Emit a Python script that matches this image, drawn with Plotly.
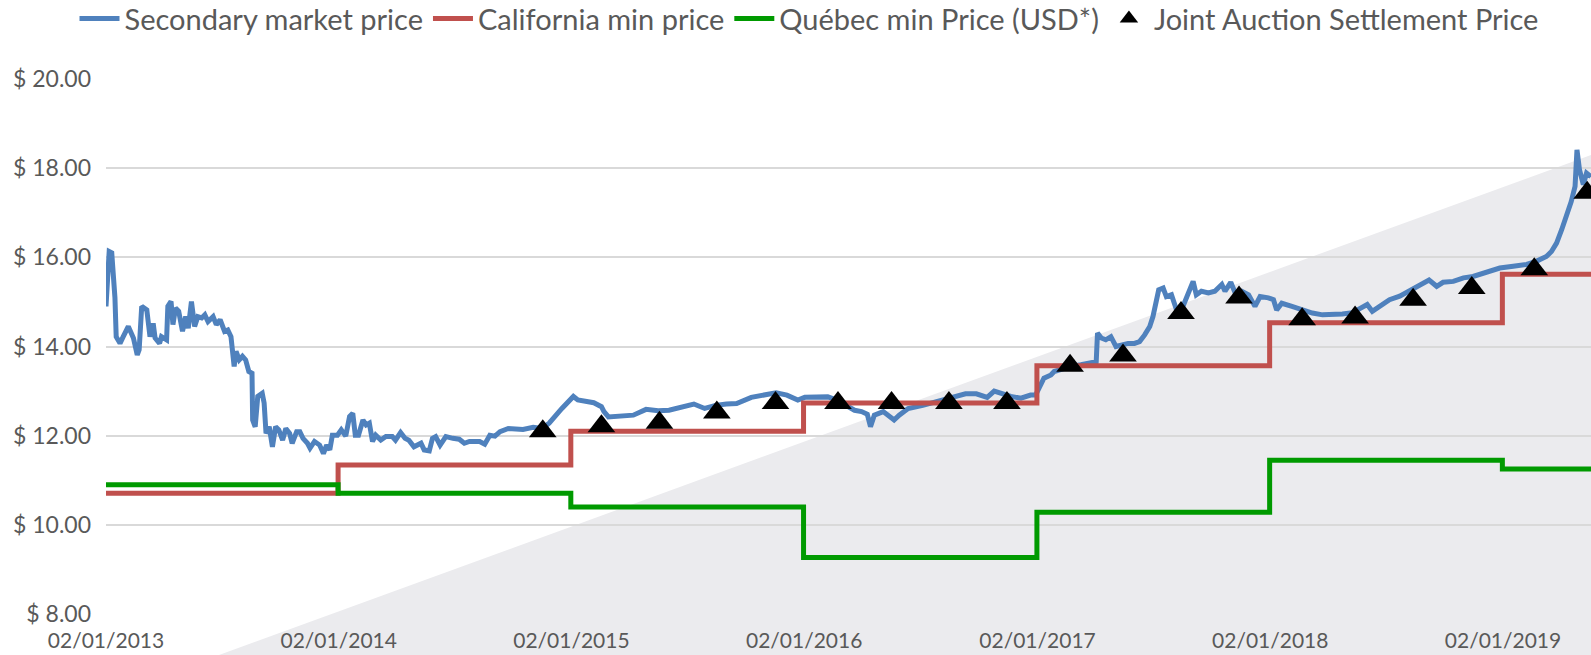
import plotly.graph_objects as go

# ---------------- data ----------------
secondary_dates = [
    "2013-01-02","2013-01-07","2013-01-11","2013-01-16","2013-01-18","2013-01-24","2013-01-29","2013-02-06",
    "2013-02-14","2013-02-20","2013-02-23","2013-02-27","2013-03-07","2013-03-12","2013-03-17","2013-03-20",
    "2013-03-27","2013-03-30","2013-04-07","2013-04-09","2013-04-14","2013-04-17","2013-04-21","2013-04-26",
    "2013-05-02","2013-05-07","2013-05-11","2013-05-16","2013-05-21","2013-05-26","2013-06-01","2013-06-06",
    "2013-06-11","2013-06-19","2013-06-24","2013-06-30","2013-07-07","2013-07-12","2013-07-17","2013-07-20",
    "2013-07-22","2013-07-25","2013-07-30","2013-08-04","2013-08-09","2013-08-14","2013-08-19","2013-08-20",
    "2013-08-24","2013-08-28","2013-09-04","2013-09-07","2013-09-10","2013-09-15","2013-09-20","2013-09-25",
    "2013-09-30","2013-10-06","2013-10-11","2013-10-17","2013-10-21","2013-10-28","2013-11-02","2013-11-07",
    "2013-11-14","2013-11-18","2013-11-25","2013-12-03","2013-12-09","2013-12-14","2013-12-19","2013-12-23",
    "2013-12-31","2014-01-06","2014-01-13","2014-01-19","2014-01-24","2014-01-28","2014-02-02","2014-02-09",
    "2014-02-14","2014-02-19","2014-02-24","2014-03-01","2014-03-09","2014-03-17","2014-03-27","2014-04-01",
    "2014-04-09","2014-04-16","2014-04-22","2014-04-30","2014-05-11","2014-05-16","2014-05-24","2014-05-29",
    "2014-06-03","2014-06-10","2014-06-19","2014-06-30","2014-07-10","2014-07-18","2014-07-26","2014-08-11",
    "2014-08-19","2014-08-27","2014-09-04","2014-09-12","2014-09-25","2014-10-18","2014-11-03","2014-11-17",
    "2014-11-28","2014-12-18","2015-01-05","2015-01-12","2015-01-26","2015-02-06","2015-02-18","2015-02-22",
    "2015-03-01","2015-03-23","2015-04-09","2015-04-29","2015-05-18","2015-06-04","2015-06-26","2015-07-13",
    "2015-07-30","2015-08-16","2015-09-02","2015-09-18","2015-10-11","2015-11-02","2015-11-19","2015-12-06",
    "2015-12-23","2016-01-03","2016-01-26","2016-02-08","2016-02-22","2016-03-10","2016-03-21","2016-04-01",
    "2016-04-10","2016-04-15","2016-04-21","2016-05-05","2016-05-22","2016-05-30","2016-06-13","2016-07-06",
    "2016-07-22","2016-08-08","2016-08-25","2016-09-11","2016-09-28","2016-10-15","2016-10-26","2016-11-06",
    "2016-11-21","2016-12-07","2016-12-22","2016-12-30","2017-01-07","2017-01-12","2017-01-23","2017-01-28",
    "2017-02-07","2017-02-23","2017-03-11","2017-03-27","2017-04-04","2017-04-06","2017-04-12","2017-04-19",
    "2017-04-27","2017-05-05","2017-05-13","2017-05-24","2017-06-03","2017-06-11","2017-06-19","2017-06-27",
    "2017-07-02","2017-07-07","2017-07-11","2017-07-18","2017-07-23","2017-07-31","2017-08-08","2017-08-18",
    "2017-08-26","2017-09-03","2017-09-08","2017-09-16","2017-09-27","2017-10-07","2017-10-18","2017-10-23",
    "2017-11-01","2017-11-08","2017-11-18","2017-11-29","2017-12-09","2017-12-17","2017-12-30","2018-01-07",
    "2018-01-12","2018-01-20","2018-02-05","2018-02-21","2018-03-09","2018-03-25","2018-04-09","2018-04-25",
    "2018-05-11","2018-05-24","2018-06-03","2018-06-11","2018-06-19","2018-07-08","2018-07-24","2018-08-14",
    "2018-08-27","2018-09-08","2018-09-20","2018-09-30","2018-10-16","2018-11-01","2018-11-16","2018-12-07",
    "2018-12-28","2019-01-18","2019-02-08","2019-02-23","2019-03-11","2019-03-19","2019-03-27","2019-04-04",
    "2019-04-09","2019-04-14","2019-04-19","2019-04-25","2019-04-28","2019-05-02","2019-05-08","2019-05-13",
    "2019-05-20",
]
secondary_price = [
    14.90,16.13,16.10,15.10,14.22,14.07,14.22,14.45,
    14.19,13.81,13.93,14.90,14.82,14.22,14.52,14.19,
    14.07,14.22,14.15,14.90,15.01,14.49,14.86,14.79,
    14.34,14.67,14.41,15.01,14.45,14.67,14.64,14.71,
    14.56,14.67,14.49,14.60,14.34,14.37,14.22,13.93,
    13.55,13.89,13.70,13.78,13.70,13.44,13.40,12.35,
    12.20,12.88,12.95,12.73,12.05,12.20,11.75,12.20,
    12.13,11.90,12.16,12.05,11.83,12.09,12.09,11.94,
    11.83,11.72,11.87,11.79,11.60,11.79,11.68,12.01,
    12.01,12.13,11.99,12.43,12.50,12.01,12.01,12.35,
    12.24,12.28,11.87,12.01,11.90,11.98,11.98,11.90,
    12.07,11.94,11.90,11.75,11.83,11.68,11.66,11.94,
    11.98,11.79,11.98,11.94,11.92,11.83,11.87,11.87,
    11.81,12.01,11.99,12.09,12.16,12.14,12.19,12.16,
    12.28,12.61,12.88,12.80,12.78,12.74,12.65,12.54,
    12.42,12.44,12.46,12.59,12.56,12.57,12.66,12.71,
    12.61,12.68,12.71,12.72,12.86,12.91,12.96,12.91,
    12.80,12.86,12.87,12.87,12.80,12.65,12.57,12.54,
    12.48,12.20,12.46,12.54,12.35,12.46,12.61,12.68,
    12.74,12.80,12.86,12.94,12.94,12.86,13.00,12.94,
    12.88,12.84,12.91,12.91,13.18,13.29,13.36,13.44,
    13.48,13.55,13.59,13.63,13.66,14.30,14.19,14.15,
    14.22,14.00,14.04,14.07,14.07,14.11,14.26,14.45,
    14.67,14.97,15.27,15.31,15.12,15.16,14.82,14.90,
    15.20,15.46,15.16,15.24,15.20,15.24,15.39,15.24,
    15.44,15.20,15.24,15.16,14.90,15.12,15.09,15.05,
    14.82,14.97,14.90,14.82,14.75,14.71,14.71,14.73,
    14.76,14.86,14.94,14.79,14.86,15.05,15.13,15.28,
    15.39,15.49,15.35,15.44,15.46,15.54,15.57,15.66,
    15.76,15.80,15.84,15.91,16.02,16.13,16.32,16.62,
    16.81,16.99,17.25,17.59,18.41,17.96,17.63,17.89,
    17.81,
]

floor_dates = ["2013-01-02","2014-01-01","2015-01-01","2016-01-01","2017-01-01",
               "2018-01-01","2019-01-01","2019-05-20"]
california_min = [10.71, 11.34, 12.10, 12.73, 13.57, 14.53, 15.62, 15.62]
quebec_min_usd = [10.90, 10.71, 10.40, 9.27, 10.28, 11.45, 11.25, 11.25]

auction_dates = ["2014-11-18","2015-02-18","2015-05-20","2015-08-18","2015-11-18","2016-02-24",
                 "2016-05-18","2016-08-16","2016-11-15","2017-02-22","2017-05-16","2017-08-15",
                 "2017-11-14","2018-02-21","2018-05-15","2018-08-14","2018-11-14","2019-02-20",
                 "2019-05-14"]
auction_price = [12.10, 12.21, 12.29, 12.52, 12.73, 12.73, 12.73, 12.73, 12.73, 13.57, 13.80,
                 14.75, 15.10, 14.61, 14.65, 15.05, 15.31, 15.73, 17.45]

x_tick_vals = ["2013-01-02","2014-01-02","2015-01-02","2016-01-02","2017-01-02","2018-01-02","2019-01-02"]
x_tick_text = ["02/01/2013","02/01/2014","02/01/2015","02/01/2016","02/01/2017","02/01/2018","02/01/2019"]
y_tick_vals = [8, 10, 12, 14, 16, 18, 20]
y_tick_text = ["$ 8.00", "$ 10.00", "$ 12.00", "$ 14.00", "$ 16.00", "$ 18.00", "$ 20.00"]

# ---------------- figure ----------------
FONT = "Lato, 'Open Sans', sans-serif"
GREY_TXT = "#595959"

fig = go.Figure()
fig.add_trace(go.Scatter(x=secondary_dates, y=secondary_price, mode="lines",
                         name="Secondary market price",
                         line=dict(color="#4F81BD", width=5)))
fig.add_trace(go.Scatter(x=floor_dates, y=california_min, mode="lines",
                         name="California min price", line_shape="hv",
                         line=dict(color="#C0504D", width=5)))
fig.add_trace(go.Scatter(x=floor_dates, y=quebec_min_usd, mode="lines",
                         name="Québec min Price (USD*)", line_shape="hv",
                         line=dict(color="#009A00", width=5)))
fig.add_trace(go.Scatter(x=auction_dates, y=auction_price, mode="markers",
                         name="Joint Auction Settlement Price", cliponaxis=False,
                         marker=dict(symbol="triangle-up", size=24, color="black")))

# light grey diagonal background area (paper coordinates)
fig.add_shape(type="path", xref="paper", yref="paper", layer="below",
              path="M 0.0761,-0.0766 L 1,0.858 L 1,-0.0766 Z",
              fillcolor="#EBEBEE", line=dict(width=0))

fig.update_layout(
    width=1591, height=655,
    margin=dict(l=106, r=0, t=79, b=41, autoexpand=False),
    paper_bgcolor="white", plot_bgcolor="rgba(0,0,0,0)",
    font=dict(family=FONT, color=GREY_TXT, size=21),
    showlegend=True,
    legend=dict(orientation="h", x=0.4734, xanchor="center", y=1.113, yanchor="middle",
                font=dict(family=FONT, size=29, color=GREY_TXT),
                bgcolor="rgba(0,0,0,0)", itemwidth=40, tracegroupgap=0),
    xaxis=dict(type="date", range=["2013-01-02", "2019-05-20"],
               tickvals=x_tick_vals, ticktext=x_tick_text,
               showgrid=False, zeroline=False, showline=False,
               ticks="", ticklabelstandoff=12,
               tickfont=dict(family=FONT, size=21, color=GREY_TXT)),
    yaxis=dict(range=[8, 20], tickvals=y_tick_vals, ticktext=y_tick_text,
               showgrid=True, gridcolor="#D9D9D9", gridwidth=1.5,
               zeroline=False, showline=False, ticks="", ticklabelstandoff=14,
               tickfont=dict(family=FONT, size=23, color=GREY_TXT)),
)

fig.write_html("out.html", config={"displayModeBar": False},
               post_script="document.body.style.margin='0';")
